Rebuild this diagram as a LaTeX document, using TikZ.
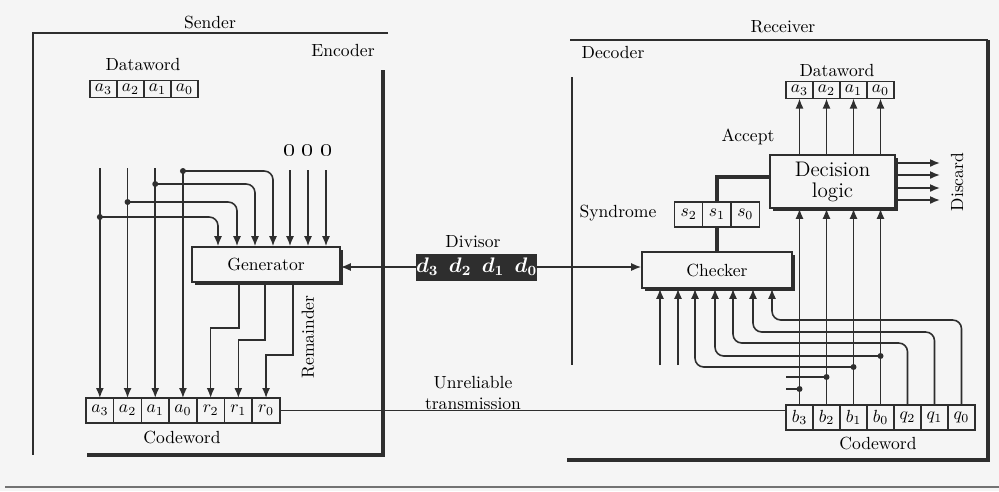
\documentclass[tikz,border=0pt]{standalone}
\usepackage{amsmath}
\usepackage{tikz}
\usetikzlibrary{arrows.meta,positioning,shadows}

\definecolor{paper}{gray}{0.96}
\definecolor{ink}{gray}{0.18}

\begin{document}
\begin{tikzpicture}[x=0.02cm,y=-0.02cm,font=\normalsize,
  >={Latex[length=2mm,width=1.6mm]},
  wire/.style={draw=ink,line width=0.9pt},
  bus/.style={draw=ink,line width=1.9pt},
  border/.style={draw=ink,line width=0.9pt},
  heavy/.style={draw=ink,line width=1.8pt},
  cell/.style={draw=ink,line width=0.8pt,fill=paper,inner sep=0pt,outer sep=0pt,
    minimum width=0.54cm,minimum height=0.5cm},
  block/.style={draw=ink,line width=0.9pt,fill=paper,align=center,inner sep=0pt,
    drop shadow={shadow xshift=1.7pt,shadow yshift=-1.7pt,fill=ink,opacity=1}},
  divbox/.style={fill=ink,text=white,inner sep=0pt,minimum width=2.26cm,minimum height=0.54cm},
  junct/.style={circle,fill=ink,inner sep=0pt,minimum size=3.4pt}]

\useasboundingbox (0,0) rectangle (999,491);
\fill[paper] (0,0) rectangle (999,491);
\draw[black!55,line width=0.6pt] (5,487) -- (999,487);

% Sender side: encoder frame
\node (sender) at (210,22) {Sender};
\node (encoder) at (343,50) {Encoder};
\draw[border] (388,33) -- (33,33) -- (33,455);
\draw[heavy] (383,70) -- (383,455) -- (87,455);

% Dataword, codeword and generator
\node (sdwl) at (143,64) {Dataword};
\foreach \t [count=\i] in {a_3,a_2,a_1,a_0}
  \node[cell,minimum height=0.34cm] (sdw\i) at ({90+27*\i-13.5},89) {$\t$};
\foreach \t [count=\i] in {a_3,a_2,a_1,a_0,r_2,r_1,r_0}
  \node[cell,minimum width=0.554cm] (scw\i) at ({86+27.7*\i-13.85},410.5) {$\t$};
\node (scwl) at (182,437) {Codeword};
\node[block,minimum width=2.96cm,minimum height=0.7cm] (gen) at (266,264.5) {Generator};
\foreach \x [count=\i] in {218,237,255,273,290,308,326}
  \coordinate (gin\i) at (\x,0 |- gen.north);

% Dataword bits: copied down and fed to the generator
\foreach \i/\y in {1/217,2/202,3/184,4/171}
  \coordinate (tap\i) at (scw\i.north |- 0,\y);
\foreach \i in {1,2,3} {
  \coordinate (top\i) at (scw\i.north |- 0,168);
  \draw[wire,->] (top\i) -- (scw\i.north);
}
\draw[wire,->] (tap4) -- (scw4.north);
\foreach \i in {1,...,4} {
  \draw[wire,->,rounded corners=5pt] (tap\i) -| (gin\i);
  \node[junct] (jt\i) at (tap\i) {};
}

% Three appended zeros
\node (zeros) at (308,150) {\Large\oldstylenums{0}\hspace{3.5pt}\oldstylenums{0}\hspace{3.5pt}\oldstylenums{0}};
\foreach \i in {5,6,7} {
  \coordinate (zin\i) at (gin\i |- 0,170);
  \draw[wire,->] (zin\i) -- (gin\i);
}

% Remainder bits into the codeword
\foreach \x/\y/\c [count=\i] in {239/328/5,265/340/6,293/355/7} {
  \coordinate (gout\i) at (\x,0 |- gen.south);
  \draw[wire,->] (gout\i) -- (gout\i |- 0,\y) -| (scw\c.north);
}
\node[rotate=90] (rem) at (308,337) {Remainder};

% Receiver side: decoder frame
\node (receiver) at (783,27) {Receiver};
\node (decoder) at (613,52) {Decoder};
\draw[border] (570,40) -- (988,40);
\draw[heavy] (988,40) -- (988,460) -- (567,460);
\draw[border] (572,77) -- (572,365);

\foreach \t [count=\i] in {b_3,b_2,b_1,b_0,q_2,q_1,q_0}
  \node[cell] (rcw\i) at ({786+27*\i-13.5},417.5) {$\t$};
\node (rcwl) at (878,443) {Codeword};
\node[block,minimum width=3cm,minimum height=0.72cm] (chk) at (717,270) {Checker};
\node[block,minimum width=2.5cm,minimum height=1.06cm] (dec) at (832.5,181.5) {\large Decision\\\large logic};
\node (rdwl) at (837,70) {Dataword};
\foreach \t [count=\i] in {a_3,a_2,a_1,a_0}
  \node[cell,minimum height=0.34cm] (rdw\i) at ({786+27*\i-13.5},90) {$\t$};

% Shared divisor
\node[divbox] (divr) at (476.5,267) {\large$\boldsymbol{d_3\enspace d_2\enspace d_1\enspace d_0}$};
\node (divl) at (473,242) {Divisor};
\draw[wire,->] (divr.west) -- (divr.west -| gen.east);
\draw[wire,->] (divr.east) -- (divr.east -| chk.west);

% Channel
\draw[wire] (scw7.east) -- (scw7.east -| rcw1.west);
\node[align=center] (unrel) at (473,393) {Unreliable\\transmission};

% Syndrome from checker to decision logic
\draw[bus] (chk.north) |- ([yshift=2.5pt]dec.west);
\foreach \t [count=\i] in {s_2,s_1,s_0}
  \node[cell,minimum width=0.57cm] (syn\i) at ({717+28.3*(\i-2)},214.5) {$\t$};
\node (synl) at (618,213) {Syndrome};

% Dataword bits to decision logic, accepted or discarded
\foreach \i in {1,...,4} {
  \draw[wire,->] (rcw\i.north) -- (rcw\i.north |- dec.south);
  \draw[wire,->] (rcw\i.north |- dec.north) -- (rdw\i.south);
}
\node (acc) at (748,137) {Accept};
\coordinate (dend) at (940,0);
\foreach \y in {163,175,188,200}
  \draw[wire,->] (dec.east |- 0,\y) -- (dend |- 0,\y);
\node[rotate=90] (disc) at (957,182) {Discard};

% Codeword bits into the checker
\foreach \x [count=\i] in {660,678,695,715,733,753,772}
  \coordinate (cin\i) at (\x,0 |- chk.south);
\foreach \i in {1,2} {
  \coordinate (cfree\i) at (cin\i |- 0,365);
  \draw[wire,->] (cfree\i) -- (cin\i);
}
\foreach \i/\y in {1/389,2/377,3/367,4/356}
  \coordinate (rt\i) at (rcw\i.north |- 0,\y);
\draw[wire] (rcw1.west |- rt1) -- (rt1);
\draw[wire] (rcw1.west |- rt2) -- (rt2);
\draw[wire,->,rounded corners=5pt] (rt3) -| (cin3);
\draw[wire,->,rounded corners=5pt] (rt4) -| (cin4);
\foreach \c/\y in {5/343,6/332,7/320}
  \draw[wire,->,rounded corners=5pt] (rcw\c.north) |- (cin\c |- 0,\y) -- (cin\c);
\foreach \i in {1,...,4}
  \node[junct] (jr\i) at (rt\i) {};

\end{tikzpicture}
\end{document}
